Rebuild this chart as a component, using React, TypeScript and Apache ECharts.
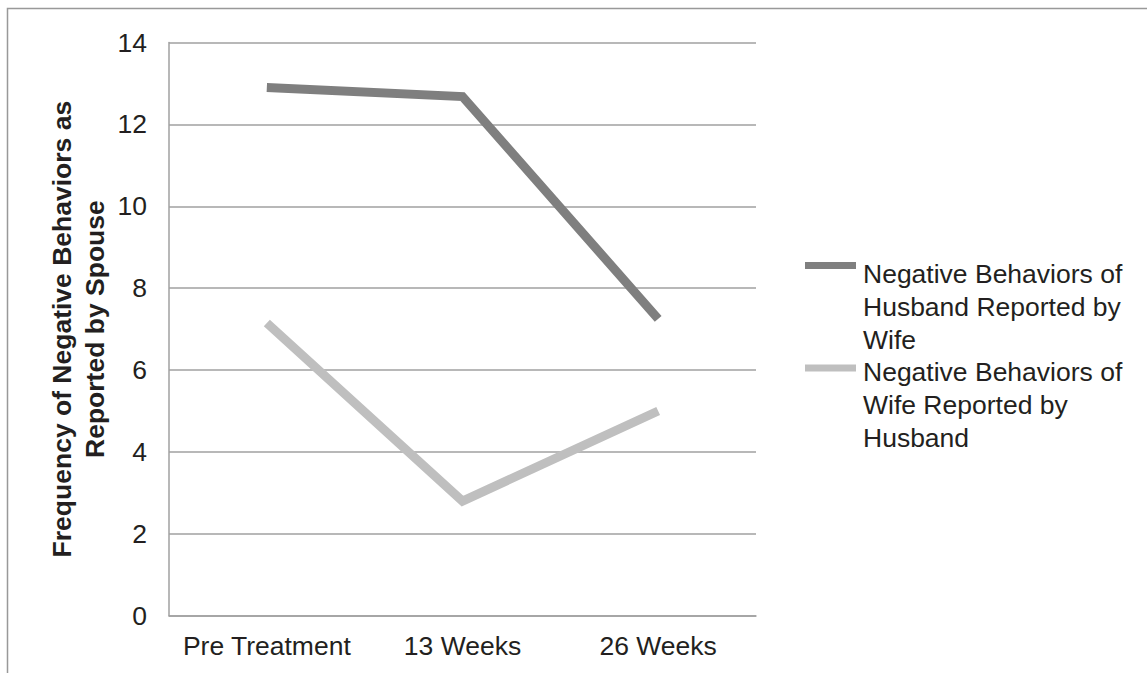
import React, { useEffect, useRef } from "react";
import * as echarts from "echarts";

// Timepoints on the x axis
const timepoints = ["Pre Treatment", "13 Weeks", "26 Weeks"];

// Reported frequency of negative behaviours
const husbandByWife = [12.9, 12.68, 7.25];
const wifeByHusband = [7.15, 2.8, 5.0];

const seriesNames = [
  "Negative Behaviors of\nHusband Reported by\nWife",
  "Negative Behaviors of\nWife Reported by\nHusband",
];
const seriesColors = ["#7f7f7f", "#bfbfbf"];

const yTicks = { min: 0, max: 14, interval: 2 };

const FONT = "'Liberation Sans', Arial, Helvetica, sans-serif";
const TEXT = "#231f20";
const FS = 26.5;

export default function App() {
  const ref = useRef<HTMLDivElement>(null);

  useEffect(() => {
    if (!ref.current) return;
    const chart = echarts.init(ref.current, undefined, { renderer: "svg" });

    const legendX = 805;
    const iconY = [265.5, 368];
    const textTop = [257.5, 356];
    const legendItems: any[] = [];
    seriesNames.forEach((name, i) => {
      legendItems.push({
        type: "rect",
        shape: { x: legendX, y: iconY[i] - 3.5, width: 51, height: 7 },
        style: { fill: seriesColors[i] },
      });
      legendItems.push({
        type: "text",
        x: 863,
        y: textTop[i],
        style: {
          text: name,
          font: `${FS}px ${FONT}`,
          fill: TEXT,
          lineHeight: 32.8,
          textVerticalAlign: "top",
        },
      });
    });

    chart.setOption({
      animation: false,
      textStyle: { fontFamily: FONT },
      grid: { left: 169, top: 42.5, right: 391, bottom: 57.3, containLabel: false },
      xAxis: {
        type: "category",
        data: timepoints,
        boundaryGap: true,
        axisLine: { show: true, lineStyle: { color: "#a0a0a0", width: 1.5 } },
        axisTick: { show: false },
        axisLabel: { color: TEXT, fontSize: FS, margin: 17, interval: 0, fontFamily: FONT },
      },
      yAxis: {
        type: "value",
        min: yTicks.min,
        max: yTicks.max,
        interval: yTicks.interval,
        name: "Frequency of Negative Behaviors as\nReported by Spouse",
        nameLocation: "middle",
        nameGap: 58,
        nameMoveOverlap: false,
        nameTextStyle: {
          color: TEXT,
          fontSize: FS,
          fontWeight: "bold",
          lineHeight: 33,
          fontFamily: FONT,
        },
        axisLine: { show: true, lineStyle: { color: "#a0a0a0", width: 1.5 } },
        axisTick: { show: false },
        axisLabel: { color: TEXT, fontSize: FS, margin: 22, fontFamily: FONT },
        splitLine: { show: true, lineStyle: { color: "#a0a0a0", width: 1.5 } },
      },
      series: [
        {
          name: seriesNames[0],
          type: "line",
          data: husbandByWife,
          symbol: "none",
          lineStyle: { color: seriesColors[0], width: 9, cap: "butt", join: "miter" },
        },
        {
          name: seriesNames[1],
          type: "line",
          data: wifeByHusband,
          symbol: "none",
          lineStyle: { color: seriesColors[1], width: 9, cap: "butt", join: "miter" },
        },
      ],
      graphic: [
        {
          type: "rect",
          shape: { x: 7.5, y: 8.5, width: 1300, height: 800 },
          style: { fill: "none", stroke: "#999999", lineWidth: 1.5 },
          silent: true,
        },
        ...legendItems,
      ],
    });

    return () => chart.dispose();
  }, []);

  return (
    <div
      ref={ref}
      style={{ position: "fixed", left: 0, top: 0, width: 1147, height: 673, background: "#fff" }}
    />
  );
}
